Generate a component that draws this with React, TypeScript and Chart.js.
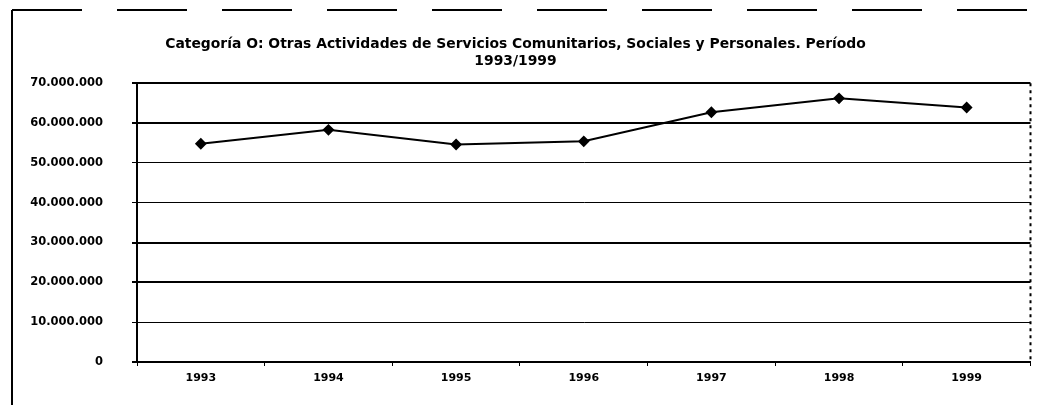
import React, { useEffect, useRef } from "react";
import { Chart, registerables } from "chart.js";

Chart.register(...registerables);

const years = ["1993", "1994", "1995", "1996", "1997", "1998", "1999"];
const values = [54800000, 58300000, 54600000, 55400000, 62700000, 66200000, 63900000];
const yMin = 0;
const yMax = 70000000;
const yStep = 10000000;
const titleLines = [
  "Categoría O: Otras Actividades de Servicios Comunitarios, Sociales y Personales. Período",
  "1993/1999",
];

function fmt(v: number): string {
  return String(Math.round(v)).replace(/\B(?=(\d{3})+(?!\d))/g, ".");
}

const FONT = "'DejaVu Sans', sans-serif";

const framePlugin = {
  id: "frame",
  afterDraw(chart: any) {
    const ctx = chart.ctx;
    const a = chart.chartArea;
    ctx.save();
    ctx.fillStyle = "#000";
    ctx.fillRect(11, 10, 2, 395);
    ctx.strokeStyle = "#000";
    ctx.lineWidth = 2;
    ctx.setLineDash([70, 35]);
    ctx.beginPath();
    ctx.moveTo(12, 10);
    ctx.lineTo(1030, 10);
    ctx.stroke();
    ctx.setLineDash([3, 4]);
    ctx.beginPath();
    ctx.moveTo(a.right, a.top);
    ctx.lineTo(a.right, a.bottom);
    ctx.stroke();
    ctx.restore();
  },
};

export default function App() {
  const ref = useRef<HTMLCanvasElement | null>(null);
  useEffect(() => {
    if (!ref.current) return;
    const widths = [2, 1, 2, 2, 1, 1, 2, 2];
    const chart = new Chart(ref.current, {
      type: "line",
      data: {
        labels: years,
        datasets: [
          {
            data: values,
            borderColor: "#000",
            borderWidth: 2,
            pointStyle: "rectRot",
            pointRadius: 4.5,
            pointBackgroundColor: "#000",
            pointBorderColor: "#000",
            tension: 0,
          },
        ],
      },
      options: {
        responsive: false,
        animation: false,
        layout: { padding: { left: 0, right: 6, top: 0, bottom: 0 } },
        plugins: {
          legend: { display: false },
          tooltip: { enabled: false },
          title: {
            display: true,
            text: titleLines,
            color: "#000",
            font: { family: FONT, weight: "bold", size: 13.9, lineHeight: 1.23 },
            padding: { top: 36, bottom: 13 },
          },
        },
        scales: {
          x: {
            type: "category",
            offset: true,
            grid: {
              offset: true,
              drawOnChartArea: false,
              drawTicks: true,
              tickLength: 4,
              color: "#000",
              lineWidth: 1,
            },
            border: { display: true, color: "#000", width: 2 },
            ticks: {
              color: "#000",
              padding: 6,
              maxRotation: 0,
              font: { family: FONT, weight: "bold", size: 11 },
            },
            afterFit: (s: any) => {
              s.height = 43;
            },
          },
          y: {
            min: yMin,
            max: yMax,
            grid: {
              color: "#000",
              lineWidth: (c: any) => widths[c.index] ?? 1,
              tickLength: 5,
              drawTicks: true,
            },
            border: { display: true, color: "#000", width: 2 },
            ticks: {
              stepSize: yStep,
              color: "#000",
              padding: 29,
              font: { family: FONT, weight: "bold", size: 11.5 },
              callback: (v: any) => fmt(Number(v)),
            },
            afterFit: (s: any) => {
              s.width = 137;
            },
          },
        },
      },
      plugins: [framePlugin],
    });
    return () => chart.destroy();
  }, []);
  return (
    <div style={{ position: "absolute", left: 0, top: 0, width: 1037, height: 405, background: "#fff" }}>
      <canvas ref={ref} width={1037} height={405} />
    </div>
  );
}
